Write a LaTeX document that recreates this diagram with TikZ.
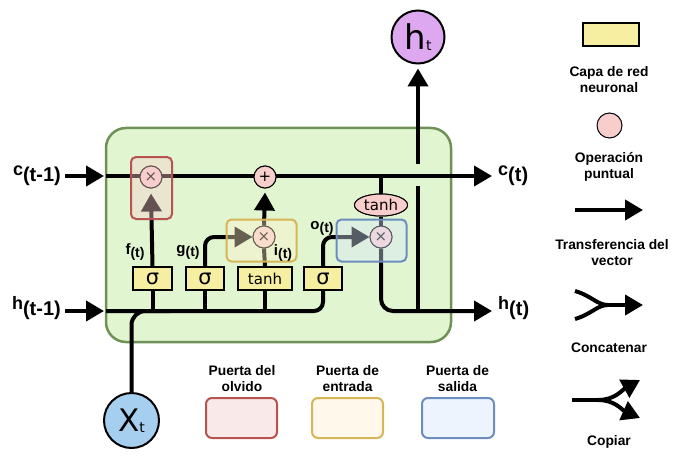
\documentclass[tikz,border=0pt]{standalone}
\usepackage{fontspec}
\setmainfont{Liberation Sans}
\newfontfamily\dejavu{DejaVu Sans}
\usetikzlibrary{arrows.meta,shapes.geometric}
\definecolor{cellgreen}{HTML}{E0F5D0}
\definecolor{cellborder}{HTML}{6F9158}
\definecolor{layery}{HTML}{F6EEA0}
\definecolor{oppink}{HTML}{F8CECC}
\definecolor{htpurple}{HTML}{DDA8F0}
\definecolor{xtblue}{HTML}{A6CFEF}
\definecolor{gred}{HTML}{B85450}
\definecolor{gyellow}{HTML}{D6B656}
\definecolor{gblue}{HTML}{6C8EBF}
\definecolor{gredfill}{HTML}{F8CECC}
\definecolor{gyellowfill}{HTML}{FFF2CC}
\definecolor{gbluefill}{HTML}{DAE8FC}
\definecolor{legred}{HTML}{F9E9E9}
\definecolor{legyellow}{HTML}{FFF8EB}
\definecolor{legblue}{HTML}{EEF4FD}

\newcommand{\biglab}[2]{{\fontsize{18}{18}\selectfont #1}\raisebox{-6pt}{\fontsize{20}{20}\selectfont #2}}
\newcommand{\smalllab}[2]{{\fontsize{15}{15}\selectfont #1}\raisebox{-3pt}{\fontsize{14}{14}\selectfont #2}}

\begin{document}
\begin{tikzpicture}[x=1pt,y=-1pt,
  wire/.style={line width=4pt},
  warr/.style={line width=4pt,-{Triangle[length=18pt,width=20pt]}},
  layer/.style={draw,line width=1.3pt,fill=layery,inner sep=0pt,minimum height=23pt,font=\dejavu\fontsize{21}{21}\selectfont},
  opc/.style={circle,draw,line width=1pt,fill=oppink,inner sep=0pt,minimum size=22pt,font=\dejavu\fontsize{15}{15}\selectfont},
  gate/.style={rounded corners=5pt,line width=2pt,fill opacity=0.4},
  legbox/.style={rounded corners=6pt,line width=2pt},
  leglab/.style={font=\bfseries\fontsize{13.8}{16}\selectfont,align=center,inner sep=0pt},
  vlab/.style={font=\bfseries,inner sep=0pt}
]
\useasboundingbox (0,0) rectangle (684,465);

% cell body
\node[draw=cellborder,fill=cellgreen,line width=2.5pt,rounded corners=20pt,minimum width=345pt,minimum height=214pt] (cell) at (278.5,235) {};

% coordinates
\coordinate (cstart) at (65,176);
\coordinate (cbox) at (104,176);
\coordinate (cin) at (106,176);
\coordinate (cend) at (492,176);
\coordinate (hstart) at (65,311);
\coordinate (hbox) at (104,311);
\coordinate (hin) at (106,311);
\coordinate (hend) at (492,311);
\coordinate (xjoin) at (170,311);
\coordinate (ctap) at (381,176);
\coordinate (hup) at (418,311);
\coordinate (hupend) at (418,186);
\coordinate (cupstart) at (418,164);

% nodes
\node[opc] (fx) at (151,177) {×};
\node[opc] (plus) at (265,177) {+};
\node[opc] (ix) at (264,237) {×};
\node[opc] (ox) at (381,237) {×};
\node[layer,minimum width=39pt] (s1) at (152.5,278.5) {σ};
\node[layer,minimum width=38pt] (s2) at (205,278.5) {σ};
\node[layer,minimum width=54pt,font=\dejavu\fontsize{15}{15}\selectfont] (s3) at (265,278.5) {tanh};
\node[layer,minimum width=38pt] (s4) at (323,278.5) {σ};
\node[ellipse,draw,line width=1pt,fill=oppink,inner sep=0pt,minimum width=53pt,minimum height=22pt,font=\dejavu\fontsize{15}{15}\selectfont] (tanhc) at (381,205) {tanh};
\node[circle,draw,line width=2pt,fill=htpurple,minimum size=53pt,inner sep=0pt] (ht) at (418,37) {\dejavu\fontsize{34}{34}\selectfont h\raisebox{-1pt}{\fontsize{14}{14}\selectfont t}};
\node[circle,draw,line width=2pt,fill=xtblue,minimum size=55pt,inner sep=0pt] (xt) at (131.5,420.5) {\dejavu\fontsize{31}{31}\selectfont X\raisebox{-1pt}{\fontsize{14}{14}\selectfont t}};

% wires
\draw[warr] (cstart) -- (cbox);
\draw[warr] (hstart) -- (hbox);
\draw[wire,rounded corners=9pt] (hin) -| (s4.south);
\foreach \s in {s1,s2,s3} \draw[wire] (\s.south) -- (\s.south |- hin);
\draw[wire,rounded corners=14pt] (xt.north) |- (xjoin);
\draw[warr] (s1.north) -- ([yshift=-5pt]fx.south);
\draw[warr,rounded corners=9pt] (s2.north) |- (ix.west);
\draw[wire] (s3.north) -- (ix.south);
\draw[warr] (ix.north) -- ([yshift=-4pt]plus.south);
\draw[warr,rounded corners=9pt] (s4.north) |- (ox.west);
\draw[wire] (ctap) -- (tanhc.north);
\draw[wire] (tanhc.south) -- (ox.north);
\draw[warr,rounded corners=12pt] (ox.south) |- (hend);
\draw[wire] (hup) -- (hupend);
\draw[warr] (cupstart) -- ([yshift=-4pt]ht.south);
\draw[warr] (cin) -- (cend);

% redraw op circles above wires
\node[opc] at (fx) {×};
\node[opc] at (plus) {+};
\node[opc] at (ix) {×};
\node[opc] at (ox) {×};
\node[ellipse,draw,line width=1pt,fill=oppink,inner sep=0pt,minimum width=53pt,minimum height=22pt,font=\dejavu\fontsize{15}{15}\selectfont] at (tanhc) {tanh};

% gate overlays
\node[gate,draw=gred,fill=gredfill,draw opacity=1,minimum width=41pt,minimum height=62pt] (fgate) at (151.5,188) {};
\node[gate,draw=gyellow,fill=gyellowfill,draw opacity=1,minimum width=70pt,minimum height=42pt] (igate) at (261.5,240.5) {};
\node[gate,draw=gblue,fill=gbluefill,draw opacity=1,minimum width=70pt,minimum height=42pt] (ogate) at (371.5,240.5) {};

% labels
\node[vlab,anchor=east] (lc0) at (61,176) {\biglab{c}{(t-1)}};
\node[vlab,anchor=east] (lh0) at (61,308) {\biglab{h}{(t-1)}};
\node[vlab,anchor=west] (lc1) at (498,176) {\biglab{c}{(t)}};
\node[vlab,anchor=west] (lh1) at (498,308) {\biglab{h}{(t)}};
\node[vlab] (lf) at (135,252) {\smalllab{f}{(t)}};
\node[vlab] (lg) at (188,252) {\smalllab{g}{(t)}};
\node[vlab] (li) at (283,253) {\smalllab{i}{(t)}};
\node[vlab] (lo) at (322,228) {\smalllab{o}{(t)}};

% bottom legend
\node[leglab] (t1) at (242,379) {Puerta del\\olvido};
\node[leglab] (t2) at (347.5,379) {Puerta de\\entrada};
\node[leglab] (t3) at (457.5,379) {Puerta de\\salida};
\node[legbox,draw=gred,fill=legred,minimum width=71pt,minimum height=40pt] (b1) at (241.5,418) {};
\node[legbox,draw=gyellow,fill=legyellow,minimum width=71pt,minimum height=40pt] (b2) at (347.5,418) {};
\node[legbox,draw=gblue,fill=legblue,minimum width=72pt,minimum height=40pt] (b3) at (458,418) {};

% right legend
\node[draw,line width=1.3pt,fill=layery,minimum width=56pt,minimum height=23pt,inner sep=0pt] (lyr) at (611,34.5) {};
\node[leglab] (r1) at (609,80) {Capa de red\\neuronal};
\node[opc,minimum size=25pt] (lop) at (609.5,125.5) {};
\node[leglab] (r2) at (609,167) {Operación\\puntual};
\coordinate (a1s) at (575,210);
\coordinate (a1e) at (643,210);
\draw[warr] (a1s) -- (a1e);
\node[leglab] (r3) at (612,253) {Transferencia del\\vector};
\coordinate (k1) at (575,291);
\coordinate (k2) at (575,319);
\coordinate (km) at (608,305);
\coordinate (ke) at (643,305);
\draw[wire] (k1) .. controls (592,296) and (597,305) .. (km);
\draw[wire] (k2) .. controls (592,314) and (597,305) .. (km);
\draw[warr] ([xshift=-2pt]km) -- (ke);
\node[leglab] (r4) at (609,348) {Concatenar};
\coordinate (p1) at (572,400);
\coordinate (pm) at (600,400);
\coordinate (pu) at (640,380);
\coordinate (pd) at (640,418);
\draw[wire] (p1) -- (pm);
\draw[warr] ([xshift=-2pt]pm) .. controls (615,400) and (622,390) .. (pu);
\draw[warr] ([xshift=-2pt]pm) .. controls (615,400) and (622,410) .. (pd);
\node[leglab] (r5) at (609,442) {Copiar};
\end{tikzpicture}
\end{document}
